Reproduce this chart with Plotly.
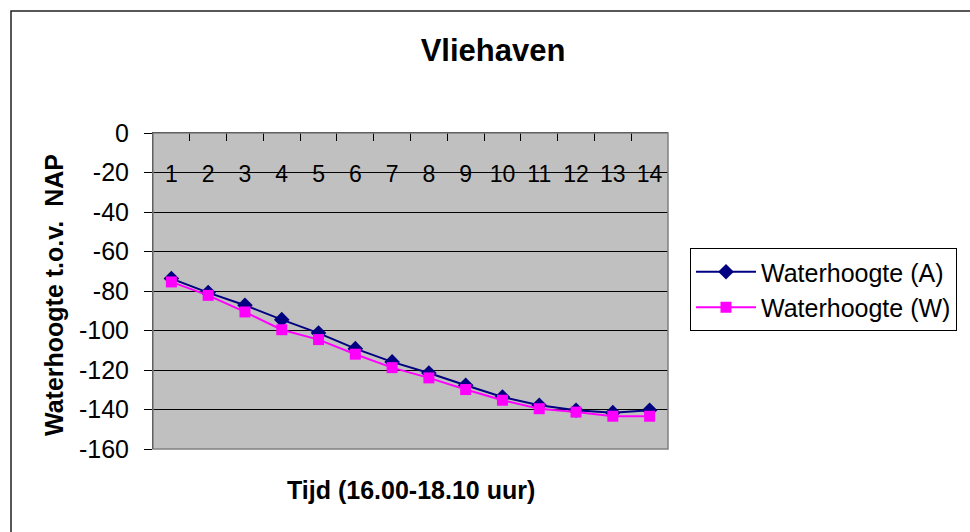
import plotly.graph_objects as go

categories = [str(i) for i in range(1, 15)]
waterhoogte_a = [-73.7, -80.8, -87.2, -94.5, -101.3, -109.2, -115.9, -121.5, -127.7, -133.7, -137.9, -140.4, -141.6, -140.4]
waterhoogte_w = [-75.4, -82.2, -90.6, -99.6, -104.6, -112.0, -118.8, -124.0, -129.9, -135.3, -139.6, -141.3, -143.4, -143.4]
y_ticks = list(range(-160, 1, 20))
y_tick_text = [str(v) for v in y_ticks]

FONT = "Liberation Sans, Arial, sans-serif"
W, H = 970, 532
L, R, T, B = 153, 302, 133, 83
pw, ph = W - L - R, H - T - B


def px_x(x):
    return (x - L) / pw


def px_y(y):
    return (H - B - y) / ph


idx = list(range(len(categories)))
xrange_ = [-0.5, len(categories) - 0.5]

fig = go.Figure()
fig.add_trace(go.Scatter(
    x=categories, y=waterhoogte_a, name="Waterhoogte (A)", mode="lines+markers",
    line=dict(color="#000080", width=2),
    marker=dict(symbol="diamond", size=12, color="#000080"),
))
fig.add_trace(go.Scatter(
    x=categories, y=waterhoogte_w, name="Waterhoogte (W)", mode="lines+markers",
    line=dict(color="#FF00FF", width=2),
    marker=dict(symbol="square", size=11, color="#FF00FF"),
))
# helper trace so the label axis is drawn
fig.add_trace(go.Scatter(
    x=idx, y=[None] * len(idx), xaxis="x2", mode="lines",
    showlegend=False, hoverinfo="skip",
))

fig.update_layout(
    width=W, height=H,
    margin=dict(l=L, r=R, t=T, b=B),
    paper_bgcolor="white",
    plot_bgcolor="#C0C0C0",
    font=dict(family=FONT, color="black", size=24),
    showlegend=True,
    legend=dict(
        x=px_x(690), y=px_y(248), xanchor="left", yanchor="top",
        bordercolor="black", borderwidth=1, bgcolor="white",
        font=dict(size=25, family=FONT), itemwidth=60,
    ),
    title=dict(
        text="Vliehaven", xref="container", yref="container",
        x=493 / W, y=1 - 50 / H, xanchor="center", yanchor="middle",
        font=dict(size=31, family=FONT, weight=700),
    ),
    xaxis=dict(
        type="category", side="top", tickson="boundaries", range=xrange_,
        ticks="inside", ticklen=8, tickcolor="black",
        showticklabels=False,
        showline=True, linecolor="black", linewidth=1,
        showgrid=False, zeroline=False,
    ),
    xaxis2=dict(
        overlaying="x", anchor="free", side="bottom", position=px_y(158),
        range=xrange_, tickvals=idx, ticktext=categories, tickangle=0,
        ticks="", showline=False, showgrid=False, zeroline=False,
        tickfont=dict(size=23, family=FONT),
    ),
    yaxis=dict(
        range=[-160, 0], tickvals=y_ticks, ticktext=y_tick_text,
        ticks="outside", ticklen=8, tickcolor="black", ticklabelstandoff=10,
        showline=True, linecolor="black", linewidth=1,
        showgrid=True, gridcolor="black", gridwidth=1, zeroline=False,
        tickfont=dict(size=25, family=FONT),
    ),
)

# plot-area border (right/bottom gray)
fig.add_shape(type="rect", xref="paper", yref="paper", x0=0, x1=1, y0=0, y1=1,
              line=dict(color="#808080", width=1.5), layer="above")
# chart outer border
fig.add_shape(type="rect", xref="paper", yref="paper",
              x0=px_x(11), y0=px_y(11), x1=px_x(1000), y1=px_y(560),
              line=dict(color="#222222", width=1.5))

fig.add_annotation(text="<b>Tijd (16.00-18.10 uur)</b>", xref="paper", yref="paper",
                   x=px_x(411), y=px_y(490), xanchor="center", yanchor="middle",
                   showarrow=False, font=dict(size=25, family=FONT))
fig.add_annotation(text="<b>Waterhoogte t.o.v.  NAP</b>", xref="paper", yref="paper",
                   x=px_x(54), y=px_y(295), xanchor="center", yanchor="middle",
                   textangle=-90, showarrow=False, font=dict(size=25, family=FONT))

fig.write_html("out.html")
